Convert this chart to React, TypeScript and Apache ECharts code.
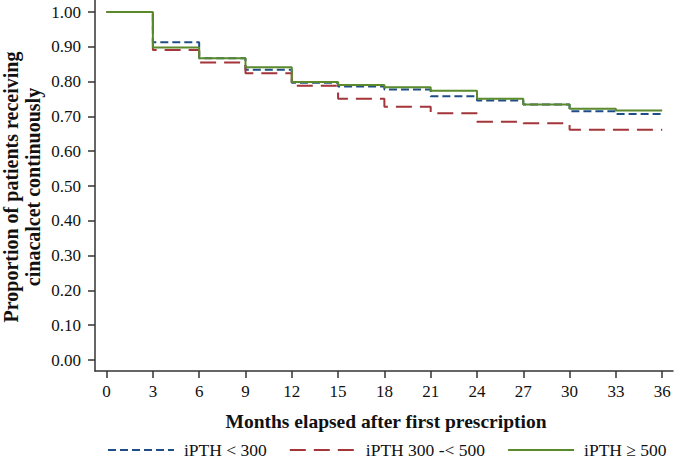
import React, { useEffect, useRef } from "react";
import * as echarts from "echarts";

const months = [0, 3, 6, 9, 12, 15, 18, 21, 24, 27, 30, 33, 36];
const seriesNames = ["iPTH < 300", "iPTH 300 -< 500", "iPTH \u2265 500"];
const lt300 = [1.0, 0.913, 0.867, 0.834, 0.797, 0.786, 0.777, 0.758, 0.746, 0.734, 0.715, 0.707, 0.707];
const mid300to500 = [1.0, 0.891, 0.855, 0.824, 0.788, 0.751, 0.728, 0.709, 0.685, 0.68, 0.662, 0.662, 0.662];
const ge500 = [1.0, 0.898, 0.867, 0.841, 0.799, 0.79, 0.784, 0.774, 0.751, 0.734, 0.722, 0.717, 0.717];
const xTicks = [0, 3, 6, 9, 12, 15, 18, 21, 24, 27, 30, 33, 36];
const yTicks = [0, 0.1, 0.2, 0.3, 0.4, 0.5, 0.6, 0.7, 0.8, 0.9, 1.0];

const FONT = "'Liberation Serif', 'Times New Roman', serif";
const AXIS_COLOR = "#333";
const TEXT_COLOR = "#111";

export default function App() {
  const ref = useRef<HTMLDivElement>(null);
  useEffect(() => {
    if (!ref.current) return;
    document.body.style.margin = "0";
    const chart = echarts.init(ref.current, null, { renderer: "svg" });
    const mk = (vals: number[]) => months.map((m, i) => [m, vals[i]]);
    const colors = ["#1f4e86", "#a3353b", "#5a8a2c"];
    const dashes: any[] = [[8, 4], [16, 8], "solid"];
    const vals = [lt300, mid300to500, ge500];
    chart.setOption({
      animation: false,
      textStyle: { fontFamily: FONT },
      grid: { left: 95, right: 2, top: 0, bottom: 88 },
      legend: {
        data: seriesNames,
        left: 107,
        top: 441,
        padding: 0,
        itemWidth: 66,
        itemHeight: 14,
        itemGap: 22,
        itemStyle: { opacity: 0 },
        textStyle: {
          fontFamily: FONT,
          fontSize: 17.5,
          lineHeight: 16,
          color: TEXT_COLOR,
          padding: [0, 0, 0, 5],
        },
      },
      xAxis: {
        type: "value",
        min: -0.75,
        max: 36.7,
        splitLine: { show: false },
        axisLine: { onZero: false, lineStyle: { color: AXIS_COLOR, width: 1.5 } },
        axisTick: { length: 7, customValues: xTicks, lineStyle: { color: AXIS_COLOR, width: 1.5 } },
        axisLabel: {
          customValues: xTicks,
          margin: 12,
          fontFamily: FONT,
          fontSize: 17,
          color: TEXT_COLOR,
        },
      },
      yAxis: {
        type: "value",
        min: -0.0316,
        max: 1.0345,
        splitLine: { show: false },
        axisLine: { show: true, onZero: false, lineStyle: { color: AXIS_COLOR, width: 1.5 } },
        axisTick: { show: true, length: 7, customValues: yTicks, lineStyle: { color: AXIS_COLOR, width: 1.5 } },
        axisLabel: {
          customValues: yTicks,
          margin: 14,
          fontFamily: FONT,
          fontSize: 17,
          color: TEXT_COLOR,
          formatter: (v: number) => v.toFixed(2),
        },
      },
      graphic: [
        {
          type: "text",
          x: 22,
          y: 187,
          rotation: Math.PI / 2,
          style: {
            text: "Proportion of patients receiving\ncinacalcet continuously",
            font: `bold 20px ${FONT}`,
            fill: TEXT_COLOR,
            textAlign: "center",
            textVerticalAlign: "middle",
            lineHeight: 22,
          },
        },
        {
          type: "text",
          x: 386,
          y: 421,
          style: {
            text: "Months elapsed after first prescription",
            font: `bold 19.5px ${FONT}`,
            fill: TEXT_COLOR,
            textAlign: "center",
            textVerticalAlign: "middle",
          },
        },
      ],
      series: seriesNames.map((name, i) => ({
        name,
        type: "line",
        step: "end",
        symbol: "none",
        data: mk(vals[i]),
        lineStyle: { color: colors[i], width: 2, type: dashes[i] },
        itemStyle: { color: colors[i] },
        z: 2 + i,
      })),
    });
    return () => chart.dispose();
  }, []);
  return <div ref={ref} style={{ width: 675, height: 459 }} />;
}
